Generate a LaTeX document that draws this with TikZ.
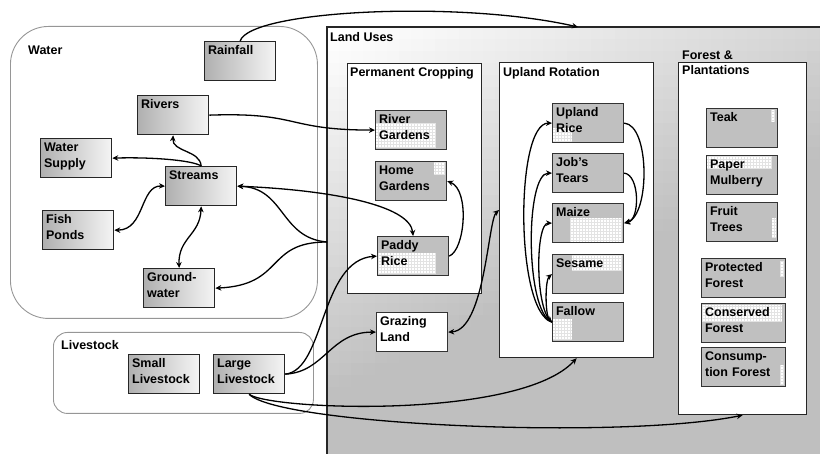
\documentclass[tikz,border=0pt]{standalone}
\usepackage{fontspec}
\setmainfont{Liberation Sans}
\usetikzlibrary{
  arrows.meta,
  calc,
  backgrounds
}
\definecolor{cellgray}{RGB}{192,192,192}
\definecolor{rimgray}{RGB}{150,150,150}
\newcommand{\gridpatch}[4]{%
  \fill[white] (#1,#2) rectangle (#3,#4);
  \draw[gray!22, line width=0.2pt, step=3pt] (#1,#4) grid (#3,#2);}

\begin{document}
\begin{tikzpicture}[x=1pt, y=-1pt,
  font=\bfseries\fontsize{12.5}{15.5}\selectfont,
  wbox/.style={draw=black!85, line width=1.3pt, left color=gray!62, right color=gray!8,
    anchor=north west, text width=64pt, align=left, inner xsep=3.5pt, inner ysep=4pt,
    text height=9pt, text depth=22pt},
  lbox/.style={draw=black!80, line width=1.2pt, anchor=north west, text width=64pt,
    align=left, inner xsep=3.5pt, inner ysep=4pt, text height=9pt, text depth=22pt},
  widebox/.style={text width=77pt},
  panel/.style={draw=black!85, line width=1.2pt, fill=white, anchor=north west, inner sep=0pt},
  zone/.style={draw=rimgray, line width=0.9pt, anchor=north west, inner sep=0pt},
  tag/.style={anchor=base west, inner sep=0pt, align=left},
  conn/.style={line width=1.3pt, -{Stealth[length=6pt, width=5.5pt]}},
  biconn/.style={conn, {Stealth[length=6pt, width=5.5pt]}-{Stealth[length=6pt, width=5.5pt]}}]

  \useasboundingbox (0,0) rectangle (820,454);

  % Water
  \node[wbox] (rain) at (204,41) {Rainfall};
  \node[wbox] (rivers) at (137,95) {Rivers};
  \node[wbox] (wsupply) at (40,138) {Water\\Supply};
  \node[wbox] (streams) at (165,166) {Streams};
  \node[wbox] (fish) at (42,210) {Fish\\Ponds};
  \node[wbox] (ground) at (143,268) {Ground-\\water};

  % Livestock
  \node[wbox] (smallstock) at (128,354) {Small\\Livestock};
  \node[wbox] (largestock) at (213,354) {Large\\Livestock};

  % Permanent Cropping and Grazing Land
  \node[lbox] (rivgard) at (375,110) {River\\Gardens};
  \node[lbox] (homegard) at (375,161) {Home\\Gardens};
  \node[lbox] (paddy) at (377,236) {Paddy\\Rice};
  \node[lbox, fill=white] (grazing) at (376,312) {Grazing\\Land};

  % Upland Rotation
  \node[lbox] (urice) at (552,103) {Upland\\Rice};
  \node[lbox] (jobs) at (552,153) {Job's\\Tears};
  \node[lbox] (maize) at (552,203) {Maize};
  \node[lbox] (sesame) at (552,254) {Sesame};
  \node[lbox] (fallow) at (552,302) {Fallow};

  % Forest & Plantations
  \node[lbox] (teak) at (706,108) {Teak};
  \node[lbox] (mulberry) at (706,155) {Paper\\Mulberry};
  \node[lbox] (fruit) at (706,202) {Fruit\\Trees};
  \node[lbox, widebox] (protected) at (701,258) {Protected\\Forest};
  \node[lbox, widebox] (conserved) at (701,303) {Conserved\\Forest};
  \node[lbox, widebox] (consumption) at (701,347) {Consump-\\tion Forest};

  % Group titles
  \node[tag] (waterlbl) at (28,55) {Water};
  \node[tag] (stocklbl) at (61,350) {Livestock};
  \node[tag] (landlbl) at (330,42) {Land Uses};
  \node[tag] (permlbl) at (350,77) {Permanent Cropping};
  \node[tag] (uplandlbl) at (503,77) {Upland Rotation};
  \node[tag] (forestlbl) at (682,75) {Forest \&\\Plantations};

  \begin{scope}[on background layer]
    % Land Uses backdrop, greyer to the right and below
    \foreach \i in {0,...,41}
      \foreach \j in {0,...,36} {
        \pgfmathsetmacro\pct{min(50, 34*\i/41 + 50*\j/30)}
        \fill[gray!\pct] (327+\i*12, 27+\j*12) rectangle (339.6+\i*12, 39.6+\j*12);
      }
    \node[anchor=north west, inner sep=0pt, minimum width=495pt, minimum height=429pt] (landuses) at (327,27) {};
    \draw[black!85, line width=1.2pt] (landuses.south west) -- (landuses.north west) -- (landuses.north east);
    \node[panel, minimum width=134pt, minimum height=230pt] (permcrop) at (347,63) {};
    \node[panel, minimum width=154pt, minimum height=295pt] (upland) at (499,62) {};
    \node[panel, minimum width=128pt, minimum height=352pt] (forest) at (678,62) {};

    % Water and Livestock groups
    \node[zone, rounded corners=38pt, minimum width=307pt, minimum height=292pt] (waterzone) at (10,26) {};
    \node[zone, rounded corners=14pt, minimum width=260pt, minimum height=81pt] (stockzone) at (53,332) {};

    % Cell fills
    \foreach \n in {rivgard,homegard,paddy,urice,jobs,maize,sesame,fallow,
                    teak,mulberry,fruit,protected,conserved,consumption}
      \fill[cellgray] (\n.north west) rectangle (\n.south east);

    % White gridded shares
    \gridpatch{376}{123}{435}{148}
    \gridpatch{434}{162}{445}{175}
    \gridpatch{378}{253}{436}{274}
    \gridpatch{553}{128}{572}{141}
    \gridpatch{570}{218}{622}{242}
    \gridpatch{572}{255}{622}{270}
    \gridpatch{553}{319}{572}{340}
    \gridpatch{771}{110}{775}{122}
    \gridpatch{707}{156}{772}{169}
    \gridpatch{772}{218}{776}{238}
    \gridpatch{780}{261}{784}{277}
    \gridpatch{702}{305}{782}{322}
    \gridpatch{780}{365}{784}{385}
  \end{scope}

  \coordinate (raintip) at ($(landuses.north west)+(251,0)$);
  \coordinate (lubranch) at ($(landuses.north west)+(0,215)$);
  \coordinate (uplandport) at ($(upland.north west)+(0,148)$);

  % Water links
  \draw[conn] (rain.north) .. controls (250,10) and (460,0) .. (raintip);
  \draw[conn] (rivers.east) .. controls (300,112) and (285,130) .. (rivgard.west);
  \draw[conn] (streams.north) .. controls (200,150) and (172,152) .. (rivers.south);
  \draw[conn] (streams.north) .. controls (192,160) and (150,157) .. (wsupply.east);
  \draw[biconn] (streams.west) .. controls (140,185) and (145,230) .. (fish.east);
  \draw[biconn] (streams.south) .. controls (200,235) and (178,238) .. (ground.north);
  \draw[conn] (lubranch) .. controls (280,238) and (285,188) .. (streams.east);
  \draw[conn] (lubranch) .. controls (265,242) and (285,285) .. (ground.east);
  \draw[biconn] (streams.east) .. controls (330,190) and (410,205) .. (paddy.north);

  % Land use links
  \draw[conn] (paddy.east) .. controls (465,250) and (470,190) .. (homegard.east);
  \draw[conn] (largestock.east) .. controls (325,370) and (320,260) .. (paddy.west);
  \draw[conn] (largestock.east) .. controls (325,372) and (330,332) .. (grazing.west);
  \draw[biconn] (grazing.east) .. controls (485,330) and (488,220) .. (uplandport);
  \draw[conn] (largestock.south) .. controls (270,410) and (520,420) .. (upland.south);
  \draw[conn] (largestock.south) .. controls (280,425) and (620,440) .. (forest.south);

  % Rotation links
  \draw[conn] (urice.east) .. controls (650,125) and (650,215) .. (maize.east);
  \draw[conn] (jobs.east) .. controls (640,175) and (640,220) .. (maize.east);
  \foreach \crop/\bend in {urice/37, jobs/27, maize/17}
    \draw[conn] (fallow.west) .. controls +(-\bend,-10) and +(-\bend,0) .. (\crop.west);
  \draw[biconn] (fallow.west) .. controls (545,315) and (545,280) .. (sesame.west);
\end{tikzpicture}
\end{document}
